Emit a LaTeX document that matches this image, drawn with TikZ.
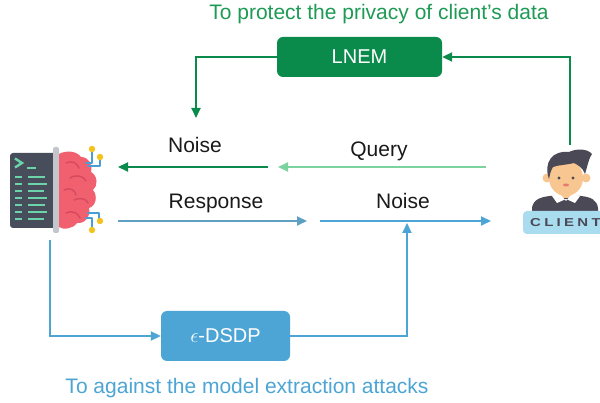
\documentclass[tikz,border=0pt]{standalone}
\usepackage{fontspec}
\setmainfont{Liberation Sans}
\usetikzlibrary{arrows.meta,calc}

\definecolor{lnemgreen}{HTML}{0A8A4B}
\definecolor{titlegreen}{HTML}{1E9A55}
\definecolor{querygreen}{HTML}{7DD3A0}
\definecolor{respblue}{HTML}{5E9FC2}
\definecolor{dsdpblue}{HTML}{4DA5D5}
\definecolor{termgray}{HTML}{474D5B}
\definecolor{promptgreen}{HTML}{6BD4A8}
\definecolor{bargray}{HTML}{C3C6CC}
\definecolor{brainpink}{HTML}{F0606F}
\definecolor{sulcus}{HTML}{D54A5E}
\definecolor{wireblue}{HTML}{4A9ED8}
\definecolor{nodeyellow}{HTML}{F4C21A}
\definecolor{hairgray}{HTML}{4A4955}
\definecolor{skin}{HTML}{F8C690}
\definecolor{tagblue}{HTML}{A8DCEE}
\definecolor{textdark}{HTML}{1A1A1A}

\tikzset{
  lbl/.style={font=\fontsize{21}{25}\selectfont, text=textdark, anchor=base, inner sep=0pt},
  procbox/.style={rounded corners=6pt, minimum width=#1, minimum height=40pt,
    inner sep=0pt, text=white, font=\fontsize{20}{24}\selectfont},
  flow/.style={line width=2pt, -{Triangle[length=10pt,width=9pt]}},
  termline/.style={promptgreen, line width=2.6pt},
  wire/.style={wireblue, line width=2pt, line cap=round, line join=round},
}

\begin{document}
\begin{tikzpicture}[x=1pt,y=-1pt]
\useasboundingbox (0,0) rectangle (600,403);
\fill[white] (0,0) rectangle (600,403);

% ---- captions ----
\node[lbl, text=titlegreen] (title) at (379,20) {To protect the privacy of client’s data};
\node[lbl, text=dsdpblue] (subtitle) at (247,393) {To against the model extraction attacks};

% ---- mechanism boxes ----
\node[procbox=165pt, fill=lnemgreen] (lnem) at (359.5,57) {LNEM};
\node[procbox=129pt, fill=dsdpblue, minimum height=50pt] (dsdp) at (225.5,336) {\raisebox{0.5pt}{$\epsilon$}-DSDP};

% ---- model icon: terminal + brain ----
\fill[termgray, rounded corners=3pt] (10,153) rectangle (56,228);
\draw[promptgreen, line width=2.4pt, line join=miter] (15,158.5) -- (22,163) -- (15,167.5);
\draw[termline] (27,168) -- (36,168);
\foreach \y/\l in {177/45,184/47,191/44,198/47,205/45,212/47,219/44}{
  \draw[termline] (15,\y) -- (22,\y);
  \draw[termline] (28,\y) -- (\l,\y);
}
\fill[bargray, rounded corners=2pt] (53,147) rectangle (59,233);
\fill[brainpink] (59,154) .. controls (66,150) and (77,151) .. (81,157)
  .. controls (89,157) and (93,165) .. (91,172)
  .. controls (98,176) and (98,186) .. (93,190)
  .. controls (98,196) and (96,206) .. (89,208)
  .. controls (91,216) and (85,224) .. (77,223)
  .. controls (73,229) and (63,230) .. (59,227) -- cycle;
\begin{scope}[sulcus, line width=1.4pt, line cap=round]
  \draw (66,163) .. controls (72,160) and (77,163) .. (79,168);
  \draw (70,178) .. controls (76,174) and (84,176) .. (86,181);
  \draw (64,190) .. controls (70,187) and (75,190) .. (76,195);
  \draw (74,200) .. controls (80,197) and (87,199) .. (88,203);
  \draw (66,213) .. controls (72,210) and (78,213) .. (80,218);
\end{scope}
\draw[wire] (86,163) -- (92,163) -- (92,151);
\draw[wire] (88,166) -- (100,166) -- (100,159);
\draw[wire] (88,213) -- (99,213) -- (99,219);
\draw[wire] (86,218) -- (92,218) -- (92,228);
\fill[nodeyellow] (92,149) circle (3.2) (100,157) circle (3.2)
  (100,221) circle (3.2) (92,230) circle (3.2);
\coordinate (modelin) at (118,167);
\coordinate (modelout) at (118,221);
\coordinate (modeldown) at (50,240);

% ---- client icon ----
\fill[hairgray] (532,215) -- (532,208) .. controls (533,200) and (540,197) .. (550,196)
  -- (581,196) .. controls (591,197) and (597,200) .. (598,208) -- (598,215) -- cycle;
\fill[skin] (559,186) rectangle (573,198);
\fill[white] (552,196) -- (560,194) -- (566,201) -- (572,194) -- (580,196) -- (575,203) -- (566,199) -- (557,203) -- cycle;
\fill[skin] (547,178) circle (4.5) (586,178) circle (4.5);
\fill[skin] (566,178) ellipse (17 and 18);
\fill[hairgray] (549,179) .. controls (543,162) and (553,150) .. (569,152)
  .. controls (577,148) and (588,149) .. (592,154)
  .. controls (589,158) and (588,164) .. (585,174)
  .. controls (583,168) and (578,165) .. (574,163)
  .. controls (566,165) and (558,165) .. (553,167)
  .. controls (551,170) and (550,174) .. (549,179) -- cycle;
\fill[hairgray] (559,178) circle (1.6) (573,178) circle (1.6);
\fill[sulcus!60!skin] (566,185) ellipse (3 and 1.5);
\fill[tagblue, rounded corners=4pt] (523,211) rectangle (612,234);
\node[anchor=base west, inner sep=0pt, text=hairgray,
  font=\fontsize{11.5}{13}\selectfont\bfseries\addfontfeature{LetterSpace=22}] (clienttag) at (530,226.5)
  {\scalebox{1.3}[1]{CLIENT}};
\coordinate (client) at (570,145);
\coordinate (clientin) at (491,221);
\coordinate (clientout) at (486,167);

% ---- flow labels ----
\node[lbl] (noiseA) at (195,153) {Noise};
\node[lbl] (query) at (379,157) {Query};
\node[lbl] (resp) at (216,209) {Response};
\node[lbl] (noiseB) at (403,209) {Noise};

% ---- connectors ----
\coordinate (lnemdrop) at (196,118);
\coordinate (midA) at (268,167);
\coordinate (midB) at (278,167);
\coordinate (midC) at (307,221);
\coordinate (midD) at (320,221);
\coordinate (join) at (407,223);

\draw[flow, lnemgreen] (lnem.west) -| (lnemdrop);
\draw[flow, lnemgreen] (client) |- (lnem.east);
\draw[flow, querygreen] (clientout) -- (midB);
\draw[flow, lnemgreen] (midA) -- (modelin);
\draw[flow, respblue] (modelout) -- (midC);
\draw[flow, dsdpblue] (midD) -- (clientin);
\draw[flow, dsdpblue] (modeldown) |- (dsdp.west);
\draw[flow, dsdpblue] (dsdp.east) -| (join);
\end{tikzpicture}
\end{document}
